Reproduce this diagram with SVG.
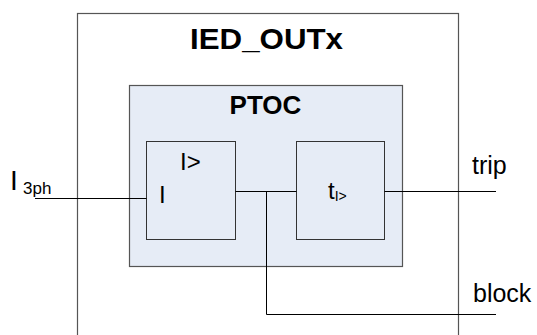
<svg xmlns="http://www.w3.org/2000/svg" width="537" height="335" viewBox="0 0 537 335">
<style>
text{font-family:"Liberation Sans",Arial,sans-serif;fill:#000}
.b{font-weight:bold}
.box{fill:#e6ecf6;stroke:#333;stroke-width:1}
.ln{fill:none;stroke:#000;stroke-width:1}
</style>
<rect width="537" height="335" fill="#fff"/>
<g id="ied">
<rect x="77.5" y="13.5" width="381" height="340" fill="#fff" stroke="#555" stroke-width="1.2"/>
<text class="b" x="190" y="48.5" font-size="30" textLength="153" lengthAdjust="spacingAndGlyphs">IED_OUTx</text>
</g>
<g id="ptoc">
<rect x="129.5" y="85.5" width="273" height="181" fill="#e6ecf6" stroke="#555" stroke-width="1.2"/>
<text class="b" x="265.5" y="114" font-size="26" text-anchor="middle">PTOC</text>
</g>
<g id="comparator">
<rect class="box" x="146.5" y="141.5" width="89" height="98"/>
<text x="180" y="170" font-size="24">I&gt;</text>
<text x="159" y="203" font-size="24">I</text>
</g>
<g id="timer">
<rect class="box" x="296.5" y="141.5" width="88" height="98"/>
<text x="328" y="199" font-size="24">t<tspan font-size="14" dy="2">I&gt;</tspan></text>
</g>
<g id="connectors">
<path class="ln" d="M35 198.5H146.5"/>
<path class="ln" d="M235.5 191.5H296.5"/>
<path class="ln" d="M266.5 191.5V314.5H496"/>
<path class="ln" d="M384.5 191.5H496"/>
</g>
<g id="labels">
<text x="10" y="189.5" font-size="28">I</text>
<text x="23" y="194" font-size="17">3ph</text>
<text x="472" y="174" font-size="25">trip</text>
<text x="473" y="302" font-size="25">block</text>
</g>
</svg>
